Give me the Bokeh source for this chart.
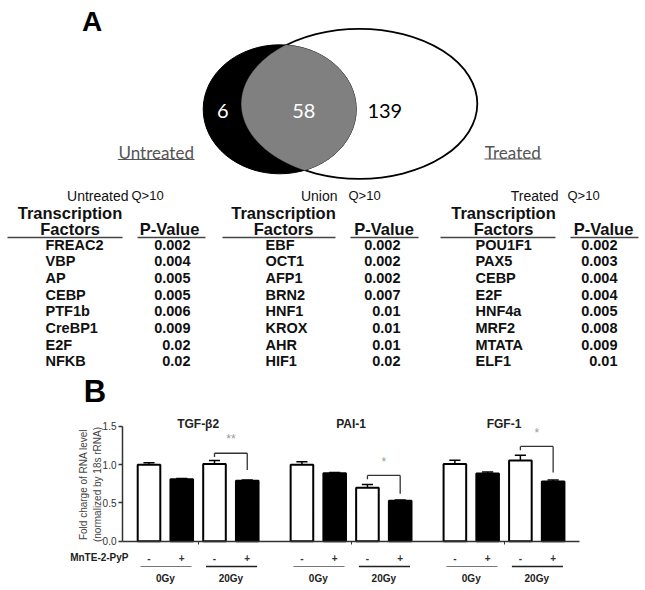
import numpy as np
from bokeh.plotting import figure
from bokeh.models import Range1d, LinearAxis, FixedTicker, NumeralTickFormatter
from bokeh.layouts import column
from bokeh.core.properties import value
from bokeh.embed import file_html
from bokeh.resources import INLINE

# ---------------- data ----------------
venn_counts = [6, 58, 139]                  # only untreated, both, only treated
venn_sets = ["Untreated", "Treated"]

table_titles = ["Untreated", "Union", "Treated"]
table_q = "Q>10"
untreated_tf = ["FREAC2", "VBP", "AP", "CEBP", "PTF1b", "CreBP1", "E2F", "NFKB"]
untreated_p = ["0.002", "0.004", "0.005", "0.005", "0.006", "0.009", "0.02", "0.02"]
union_tf = ["EBF", "OCT1", "AFP1", "BRN2", "HNF1", "KROX", "AHR", "HIF1"]
union_p = ["0.002", "0.002", "0.002", "0.007", "0.01", "0.01", "0.01", "0.02"]
treated_tf = ["POU1F1", "PAX5", "CEBP", "E2F", "HNF4a", "MRF2", "MTATA", "ELF1"]
treated_p = ["0.002", "0.003", "0.004", "0.004", "0.005", "0.008", "0.009", "0.01"]

genes = ["TGF-\u03b22", "PAI-1", "FGF-1"]
doses = ["0Gy", "20Gy"]
treatment = ["-", "+"]
treatment_name = "MnTE-2-PyP"
mean_tgf = [1.00, 0.81, 1.01, 0.79]
err_tgf = [0.025, 0.01, 0.045, 0.01]
mean_pai = [1.00, 0.89, 0.70, 0.53]
err_pai = [0.04, 0.01, 0.04, 0.01]
mean_fgf = [1.01, 0.885, 1.055, 0.78]
err_fgf = [0.05, 0.02, 0.07, 0.02]
sig_labels = ["**", "*", "*"]
bracket_top = [1.15, 0.86, 1.24]
bracket_left_end = [1.10, 0.81, 1.19]
bracket_right_end = [0.93, 0.62, 0.90]
sig_y = [1.33, 1.03, 1.41]
y_ticks = [0.0, 0.5, 1.0, 1.5]
y_label = ["Fold charge of RNA level", "(normalized by 18s rRNA)"]

FONT = "Liberation Sans"
W = 643
HA = 408
HB = 180


def txt(p, x, y, s, size, bold=False, align="center", color="#111111",
        font=FONT, baseline="middle", angle=0.0):
    p.text(x=[x], y=[y], text=[s], text_font=value(font),
           text_font_size=f"{size}px",
           text_font_style="bold" if bold else "normal",
           text_align=align, text_baseline=baseline, text_color=color,
           angle=angle)


# ---------------- panel A (pixel-like canvas) ----------------
pa = figure(width=W, height=HA, x_range=Range1d(0, W), y_range=Range1d(HA, 0),
            output_backend="svg", toolbar_location=None,
            x_axis_type=None, y_axis_type=None, min_border=0)
pa.outline_line_color = None
pa.background_fill_color = "white"

txt(pa, 91.5, 21, "A", 28, bold=True, color="#000000")
txt(pa, 94.5, 391, "B", 31, bold=True, color="#000000")

# Venn geometry (layout)
U = dict(cx=279.2, cy=108.8, rx=76.5, ry=64.5)
T = dict(cx=358.9, cy=103.3, rx=117.9, ry=75.0)


def ell_pts(e, n=1440):
    t = np.linspace(0, 2 * np.pi, n, endpoint=False)
    return e["cx"] + e["rx"] * np.cos(t), e["cy"] + e["ry"] * np.sin(t)


def inside(x, y, e):
    return ((x - e["cx"]) / e["rx"]) ** 2 + ((y - e["cy"]) / e["ry"]) ** 2 <= 1.0


pa.ellipse(x=[T["cx"]], y=[T["cy"]], width=[2 * T["rx"]], height=[2 * T["ry"]],
           fill_color="white", line_color="black", line_width=1.8)
pa.ellipse(x=[U["cx"]], y=[U["cy"]], width=[2 * U["rx"]], height=[2 * U["ry"]],
           fill_color="black", line_color="black", line_width=1)
ux, uy = ell_pts(U)
tx, ty = ell_pts(T)
m1 = inside(ux, uy, T)
m2 = inside(tx, ty, U)
ix = np.concatenate([ux[m1], tx[m2]])
iy = np.concatenate([uy[m1], ty[m2]])
ang = np.arctan2(iy - iy.mean(), ix - ix.mean())
order = np.argsort(ang)
pa.patch(x=ix[order], y=iy[order], fill_color="#808080", line_color="#808080", line_width=0.5)

txt(pa, 222.3, 110, str(venn_counts[0]), 20, color="white", font="Lato")
txt(pa, 303.3, 110, str(venn_counts[1]), 20, color="white", font="Lato")
txt(pa, 384.3, 110, str(venn_counts[2]), 20, color="black", font="Lato")

txt(pa, 155.7, 152, venn_sets[0], 17, color="#555555", font="Lato")
pa.segment(x0=[117.3], y0=[159], x1=[194], y1=[159], line_color="#555555", line_width=1)
txt(pa, 512.3, 152, venn_sets[1], 17, color="#555555", font="Lato")
pa.segment(x0=[484], y0=[158.5], x1=[541], y1=[158.5], line_color="#555555", line_width=1)

# tables
tables = [
    (untreated_tf, untreated_p),
    (union_tf, union_p),
    (treated_tf, treated_p),
]
tab_layout = [
    dict(title_r=128, q_l=131, tf_c=69.5, pv_c=169, l1=(7, 122), l2=(137, 205), name_l=45, val_r=190),
    dict(title_r=337, q_l=348, tf_c=283, pv_c=383.5, l1=(222, 335), l2=(350, 418), name_l=265, val_r=400),
    dict(title_r=558, q_l=567, tf_c=503, pv_c=603, l1=(440, 555), l2=(570, 638), name_l=475, val_r=617),
]
ROW0, ROWSTEP = 244, 16.67
for (names, pvals), title, L in zip(tables, table_titles, tab_layout):
    txt(pa, L["title_r"], 195, title, 14, align="right")
    txt(pa, L["q_l"], 195, table_q, 13, align="left")
    txt(pa, L["tf_c"], 212, "Transcription", 16.5, bold=True)
    txt(pa, L["tf_c"], 228, "Factors", 16.5, bold=True)
    txt(pa, L["pv_c"], 228, "P-Value", 16.5, bold=True)
    pa.segment(x0=[L["l1"][0], L["l2"][0]], y0=[237, 237], x1=[L["l1"][1], L["l2"][1]], y1=[237, 237],
               line_color="#444444", line_width=1.5)
    ys = [ROW0 + i * ROWSTEP for i in range(len(names))]
    pa.text(x=[L["name_l"]] * len(names), y=ys, text=names, text_font=value(FONT),
            text_font_size="14.5px", text_font_style="bold", text_align="left",
            text_baseline="middle", text_color="#111111")
    pa.text(x=[L["val_r"]] * len(pvals), y=ys, text=pvals, text_font=value(FONT),
            text_font_size="14.5px", text_font_style="bold", text_align="right",
            text_baseline="middle", text_color="#111111")

# ---------------- panel B (bar chart) ----------------
PX0, UNIT, Y0PX, YUNIT = 148.5, 32.75, 540.7, 76.47


def bx(px):
    return (px - PX0) / UNIT


def by(py):
    return (Y0PX - py) / YUNIT


pb = figure(width=W, height=HB, x_range=Range1d(bx(0), bx(W)), y_range=Range1d(by(HA + HB), by(HA)),
            output_backend="svg", toolbar_location=None,
            x_axis_type=None, y_axis_type=None, min_border=0)
pb.outline_line_color = None
pb.background_fill_color = "white"

GSTEP = 4.67
means = mean_tgf + mean_pai + mean_fgf
errs = err_tgf + err_pai + err_fgf
xs = [g * GSTEP + k for g in range(len(genes)) for k in range(4)]
fills = ["white" if k % 2 == 0 else "black" for g in range(len(genes)) for k in range(4)]
tops = [m + e for m, e in zip(means, errs)]

pb.segment(x0=xs, y0=means, x1=xs, y1=tops, line_color="black", line_width=1.5)
pb.segment(x0=[x - 0.17 for x in xs], y0=tops, x1=[x + 0.17 for x in xs], y1=tops,
           line_color="black", line_width=1.5)
pb.vbar(x=xs, top=means, bottom=0, width=0.69, fill_color=fills, line_color="black", line_width=2)

yax = LinearAxis(fixed_location=bx(122), bounds=(0, 1.5), ticker=FixedTicker(ticks=y_ticks),
                 formatter=NumeralTickFormatter(format="0.0"),
                 major_tick_out=4, major_tick_in=0, minor_tick_out=0, minor_tick_in=0,
                 axis_line_color="#333333", axis_line_width=1.5, major_tick_line_color="#333333",
                 major_tick_line_width=1.5,
                 major_label_text_font=FONT, major_label_text_font_size="10px",
                 major_label_text_color="#333333", major_label_standoff=2)
pb.add_layout(yax, "left")

xax = LinearAxis(fixed_location=0, bounds=(bx(122), bx(579)),
                 ticker=FixedTicker(ticks=[g * GSTEP + 1.5 for g in range(len(genes))]),
                 major_tick_out=3, major_tick_in=0, minor_tick_out=0, minor_tick_in=0,
                 axis_line_color="#333333", axis_line_width=1.5, major_tick_line_color="#333333",
                 major_label_text_color=None)
pb.add_layout(xax, "below")

for i, s in enumerate(y_label):
    txt(pb, bx(83 + 14 * i), by(484), s, 10, color="#444444", angle=np.pi / 2)

txt(pb, bx(128), by(557), treatment_name, 10, bold=True, align="right", color="#222222")
for g, gname in enumerate(genes):
    base = g * GSTEP
    txt(pb, base + 1.5, by(423), gname, 12, bold=True, color="#222222")
    for k in range(4):
        txt(pb, base + k, by(557), treatment[k % 2], 10, bold=True, color="#333333")
    for d, dname in enumerate(doses):
        x0 = base + 2 * d - 0.26
        x1 = base + 2 * d + 1.3
        pb.segment(x0=[x0], y0=[by(566)], x1=[x1], y1=[by(566)],
                   line_color="#777777" if d == 0 else "#222222", line_width=1 if d == 0 else 1.6)
        txt(pb, base + 2 * d + 0.5, by(578), dname, 10, bold=True, color="#222222")
    # significance bracket between 20Gy - and +
    xl, xr = base + 2, base + 3
    pb.segment(x0=[xl, xl, xr], y0=[bracket_left_end[g], bracket_top[g], bracket_top[g]],
               x1=[xl, xr, xr], y1=[bracket_top[g], bracket_top[g], bracket_right_end[g]],
               line_color="#333333", line_width=1.3)
    txt(pb, base + 2.5, sig_y[g], sig_labels[g], 12, color="#999999")

layout = column(pa, pb)
open("out.html", "w").write(file_html(layout, INLINE))
